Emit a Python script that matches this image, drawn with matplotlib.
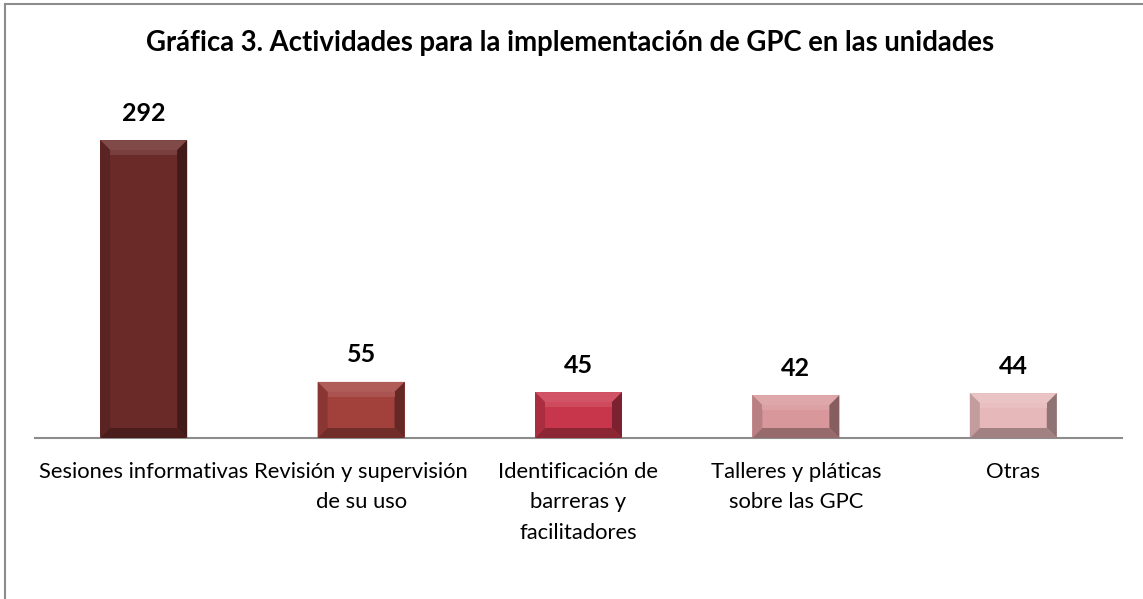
import matplotlib.pyplot as plt
import numpy as np
from matplotlib.patches import Polygon, Rectangle
import matplotlib.colors as mcolors

categorias = ["Sesiones informativas", "Revisión y supervisión\nde su uso",
              "Identificación de\nbarreras y\nfacilitadores",
              "Talleres y pláticas\nsobre las GPC", "Otras"]
valores = [292, 55, 45, 42, 44]
colores = ["#6a2a28", "#a2403c", "#c8364b", "#d8979a", "#e6b8ba"]
titulo = "Gráfica 3. Actividades para la implementación de GPC en las unidades"

plt.rcParams['font.family'] = ['Lato', 'DejaVu Sans']

fig = plt.figure(figsize=(11.43, 5.99), dpi=100)
ax = fig.add_axes([35 / 1143, 161 / 599, (1122 - 35) / 1143, 360 / 599])

x = np.arange(len(valores))
ancho = 0.40
escala = 1.02  # px per unit
ax.set_xlim(-0.5, len(valores) - 0.5)
ax.set_ylim(0, 360 / escala)

# bevel size in data units (about 10 px)
bx = 10 / 217.4
by = 10 / escala


def shade(c, f):
    r, g, b = mcolors.to_rgb(c)
    if f < 1:
        return (r * f, g * f, b * f)
    return (r + (1 - r) * (f - 1), g + (1 - g) * (f - 1), b + (1 - b) * (f - 1))


for xi, v, c in zip(x, valores, colores):
    x0, x1 = xi - ancho / 2, xi + ancho / 2
    ax.add_patch(Rectangle((x0, 0), ancho, v, facecolor=c, edgecolor='none', zorder=2))
    # top
    ax.add_patch(Polygon([(x0, v), (x1, v), (x1 - bx, v - by), (x0 + bx, v - by)],
                         facecolor=shade(c, 1.15), edgecolor='none', zorder=3))
    # left
    ax.add_patch(Polygon([(x0, 0), (x0, v), (x0 + bx, v - by), (x0 + bx, by)],
                         facecolor=shade(c, 0.85), edgecolor='none', zorder=3))
    # right
    ax.add_patch(Polygon([(x1, 0), (x1, v), (x1 - bx, v - by), (x1 - bx, by)],
                         facecolor=shade(c, 0.62), edgecolor='none', zorder=3))
    # bottom
    ax.add_patch(Polygon([(x0, 0), (x1, 0), (x1 - bx, by), (x0 + bx, by)],
                         facecolor=shade(c, 0.7), edgecolor='none', zorder=3))
    # highlight stripe under top bevel
    ax.add_patch(Rectangle((x0 + bx, v - by - 0.5 * by), ancho - 2 * bx, 0.5 * by,
                           facecolor=shade(c, 1.1), edgecolor='none', zorder=3))
    ax.text(xi, v + 27 / escala, str(v), ha='center', va='center',
            fontsize=18, fontweight='bold', color='black')

for s in ['top', 'right', 'left']:
    ax.spines[s].set_visible(False)
ax.spines['bottom'].set_color('#8c8c8c')
ax.spines['bottom'].set_linewidth(1.5)
ax.set_yticks([])
ax.set_xticks(x)
ax.set_xticklabels(categorias, fontsize=15.8, linespacing=1.68)
ax.tick_params(axis='x', length=0, pad=17)

fig.text(570 / 1143, 1 - 43 / 599, titulo, ha='center', va='center',
         fontsize=19.8, fontweight='bold')

# chart frame
fig.add_artist(plt.Line2D([5 / 1143, 1], [1 - 4 / 599, 1 - 4 / 599],
                          color='#8c8c8c', lw=1.5, transform=fig.transFigure))
fig.add_artist(plt.Line2D([5 / 1143, 5 / 1143], [0, 1 - 4 / 599],
                          color='#8c8c8c', lw=1.5, transform=fig.transFigure))

fig.savefig("out.png", dpi=100)
